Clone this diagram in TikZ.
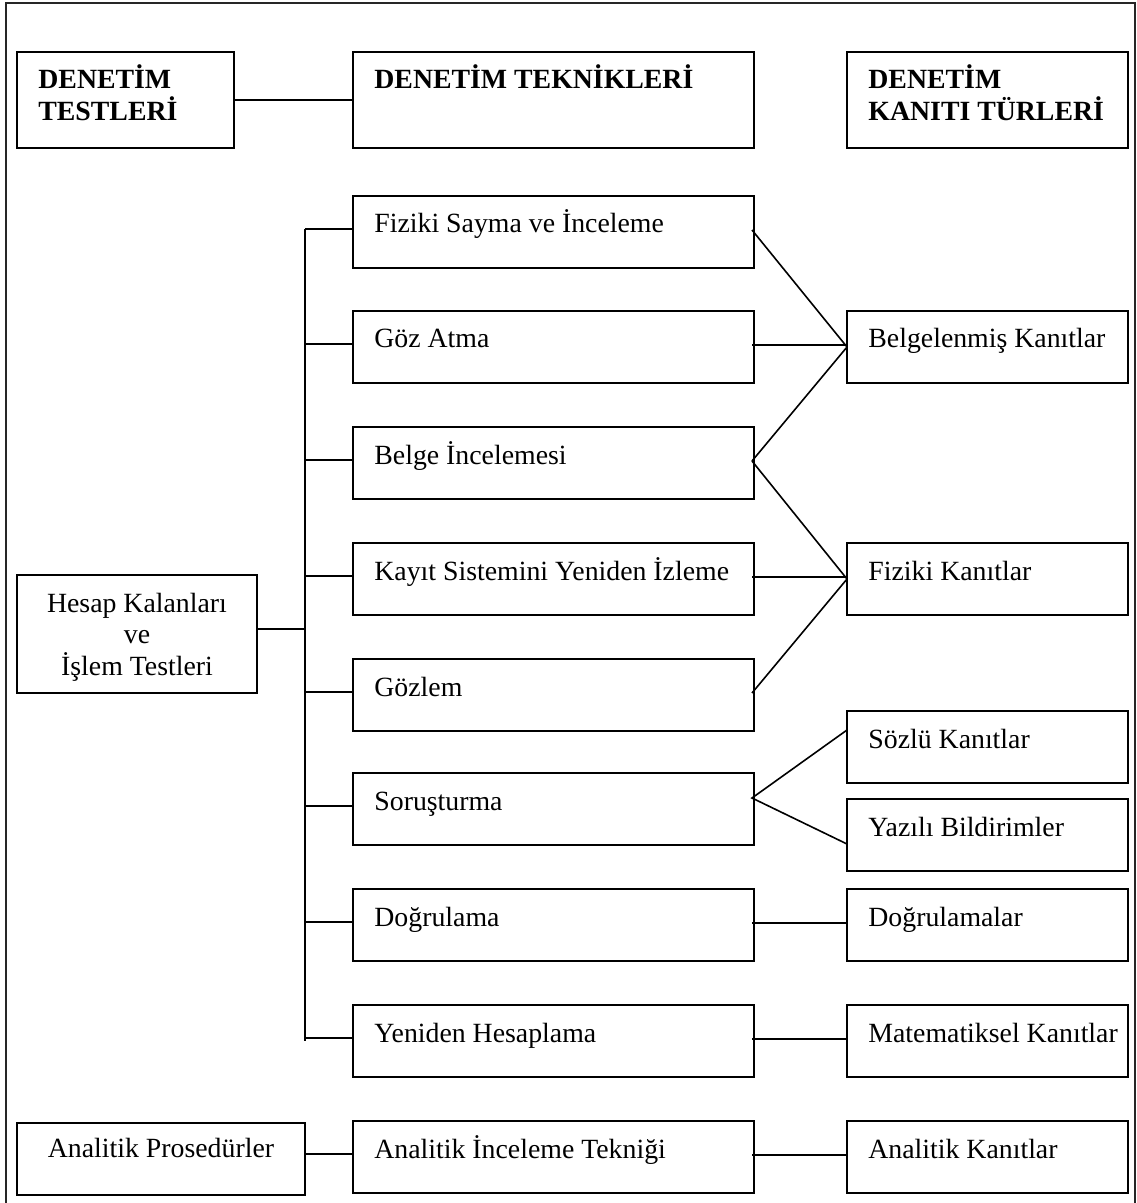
\documentclass[tikz,border=0pt]{standalone}
\usepackage{fontspec}
\setmainfont{Liberation Serif}
\newcommand\fsz{\fontsize{13.9}{15.9}\selectfont}
\newcommand\mybox[6]{%
  \node[bx, minimum width=#4*0.5pt, minimum height=#5*0.5pt] (#1) at (#2,#3) {};
  \coordinate (#1-l) at ([shift={(0,33)}]#1.north west);
  \coordinate (#1-r) at ([shift={(-2,34)}]#1.north east);
  \node[tx] (#1-t) at ([shift={(21,37)}]#1.north west) {#6};}
\begin{document}
\begin{tikzpicture}[x=0.5pt,y=-0.5pt,
  bx/.style={draw, rectangle, anchor=north west, inner sep=0pt, outer sep=0pt, line width=0.85pt},
  tx/.style={font=\fsz, inner sep=0pt, anchor=base west},
  ln/.style={line width=0.8pt},
  frame/.style={line width=0.9pt, draw=black!85}]
\useasboundingbox (0,0) rectangle (1136,1203);
% outer frame
\draw[frame] (6,1210) -- (6,3) -- (1135,3) -- (1135,1210);

% headers
\mybox{hT}{17}{52}{217}{96}{\bfseries\vtop{\hbox{DENETİM}\hbox{TESTLERİ}}}
\mybox{hK}{353}{52}{401}{96}{\bfseries DENETİM TEKNİKLERİ}
\mybox{hE}{847}{52}{281}{96}{\bfseries\vtop{\hbox{DENETİM}\hbox{KANITI TÜRLERİ}}}

% techniques
\mybox{t1}{353}{196}{401}{72}{Fiziki Sayma ve İnceleme}
\mybox{t2}{353}{311}{401}{72}{Göz Atma}
\mybox{t3}{353}{427}{401}{72}{Belge İncelemesi}
\mybox{t4}{353}{543}{401}{72}{Kayıt Sistemini Yeniden İzleme}
\mybox{t5}{353}{659}{401}{72}{Gözlem}
\mybox{t6}{353}{773}{401}{72}{Soruşturma}
\mybox{t7}{353}{889}{401}{72}{Doğrulama}
\mybox{t8}{353}{1005}{401}{72}{Yeniden Hesaplama}
\mybox{t9}{353}{1121}{401}{72}{Analitik İnceleme Tekniği}

% evidence types
\mybox{e1}{847}{311}{281}{72}{Belgelenmiş Kanıtlar}
\mybox{e2}{847}{543}{281}{72}{Fiziki Kanıtlar}
\mybox{e3}{847}{711}{281}{72}{Sözlü Kanıtlar}
\mybox{e4}{847}{799}{281}{72}{Yazılı Bildirimler}
\mybox{e5}{847}{889}{281}{72}{Doğrulamalar}
\mybox{e6}{847}{1005}{281}{72}{Matematiksel Kanıtlar}
\mybox{e7}{847}{1121}{281}{72}{Analitik Kanıtlar}

% left boxes
\node[bx, minimum width=240*0.5pt, minimum height=118*0.5pt] (hs) at (17,575) {};
\node[tx, anchor=base] (hs-t) at ([shift={(0,37)}]hs.north)
  {\vtop{\hbox to 0pt{\hss Hesap Kalanları\hss}\hbox to 0pt{\hss ve\hss}\hbox to 0pt{\hss İşlem Testleri\hss}}};
\node[bx, minimum width=288*0.5pt, minimum height=72*0.5pt] (ap) at (17,1123) {};
\node[tx, anchor=base] (ap-t) at ([shift={(0,34)}]ap.north) {Analitik Prosedürler};

% connectors
\draw[ln] (hT) -- (hK);
\coordinate (trX) at (305,0);
\coordinate (hsP) at ([shift={(0,54)}]hs.north east);
\draw[ln] (t1-l -| trX) -- (t8-l -| trX) -- ++(0,3);
\draw[ln] (hsP) -- (hsP -| trX);
\foreach \i in {1,...,8} {\draw[ln] (t\i-l -| trX) -- (t\i-l);}

\draw[ln] (t1-r) -- (e1.west);
\draw[ln] (t2-r) -- (t2-r -| e1.west);
\draw[ln] (t3-r) -- (e1.west);
\draw[ln] (t3-r) -- (e2.west);
\draw[ln] (t4-r) -- (t4-r -| e2.west);
\draw[ln] (t5-r) -- (e2.west);
\coordinate (t6-f) at ([shift={(-2,25)}]t6.north east);
\coordinate (e3-p) at ([shift={(0,19)}]e3.north west);
\coordinate (e4-p) at ([shift={(0,45)}]e4.north west);
\draw[ln] (e3-p) -- (t6-f) -- (e4-p);
\draw[ln] (t7-r) -- (t7-r -| e5.west);
\draw[ln] (t8-r) -- (t8-r -| e6.west);
\draw[ln] (t9-r) -- (t9-r -| e7.west);
\draw[ln] (t9-l -| ap.east) -- (t9-l);
\end{tikzpicture}
\end{document}
